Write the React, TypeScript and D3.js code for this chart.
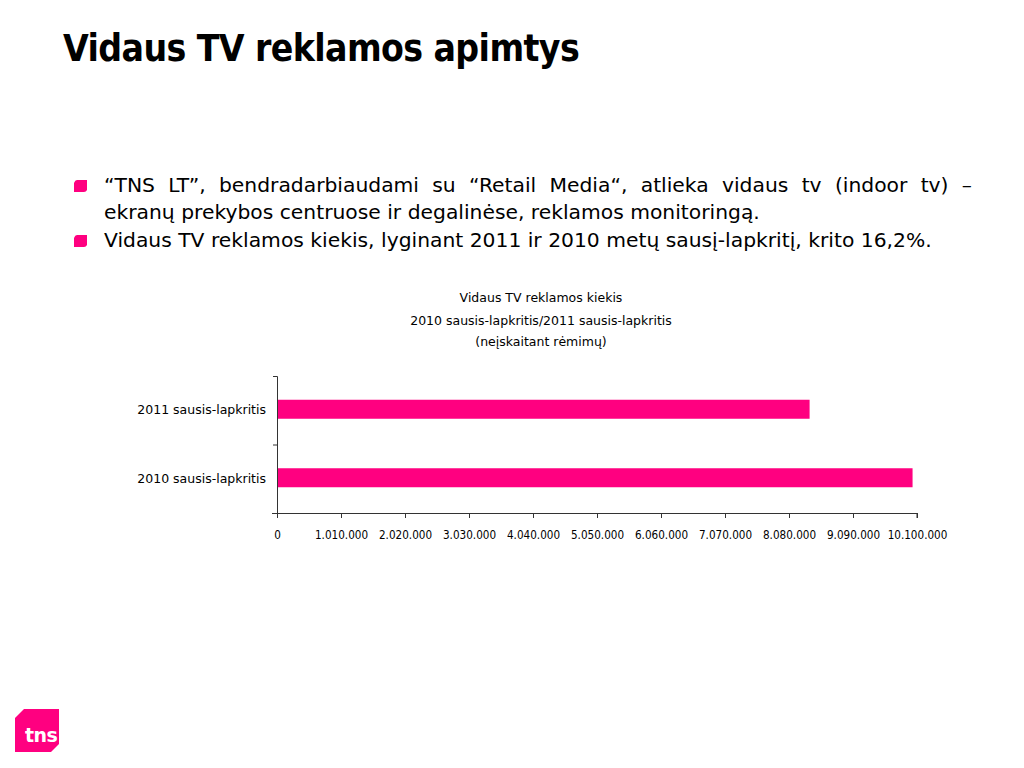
import React, { useEffect, useRef } from "react";
import * as d3 from "d3";

const categories = ["2011 sausis-lapkritis", "2010 sausis-lapkritis"];
const values = [8405000, 10030000];
const tickValues = [0, 1010000, 2020000, 3030000, 4040000, 5050000, 6060000, 7070000, 8080000, 9090000, 10100000];
const chartTitle = ["Vidaus TV reklamos kiekis", "2010 sausis-lapkritis/2011 sausis-lapkritis", "(neįskaitant rėmimų)"];
const pageTitle = "Vidaus TV reklamos apimtys";
const bulletLines = [
  { text: "“TNS LT”, bendradarbiaudami su “Retail Media“, atlieka vidaus tv (indoor tv) –", bullet: true, justify: true },
  { text: "ekranų prekybos centruose ir degalinėse, reklamos monitoringą.", bullet: false, justify: false },
  { text: "Vidaus TV reklamos kiekis, lyginant 2011 ir 2010 metų sausį-lapkritį, krito 16,2%.", bullet: true, justify: false },
];

const PINK = "#ff0080";
const FONT_C = "'DejaVu Sans Condensed', 'DejaVu Sans', sans-serif";
const FONT = "'DejaVu Sans', sans-serif";

export default function App() {
  const ref = useRef<SVGSVGElement>(null);

  useEffect(() => {
    const svg = d3.select(ref.current);
    svg.selectAll("*").remove();

    // Page title
    svg.append("text")
      .attr("x", 63).attr("y", 61)
      .attr("font-family", FONT_C).attr("font-weight", "bold").attr("font-size", 37)
      .attr("letter-spacing", -0.6)
      .attr("fill", "#000").text(pageTitle);

    // Bullets
    const lineY = [192, 219, 247];
    bulletLines.forEach((l, i) => {
      if (l.bullet) {
        svg.append("path")
          .attr("d", `M${77},${lineY[i] - 12} L${87},${lineY[i] - 12} L${87},${lineY[i] - 2} Q${86},${lineY[i]} ${84},${lineY[i]} L${74},${lineY[i]} L${74},${lineY[i] - 9} Q${75},${lineY[i] - 12} ${77},${lineY[i] - 12} Z`)
          .attr("fill", PINK);
      }
      const t = svg.append("text")
        .attr("x", 104).attr("y", lineY[i])
        .attr("font-family", FONT).attr("font-size", 20.3)
        .attr("fill", "#000").text(l.text);
      if (l.justify) {
        const node = t.node() as SVGTextElement;
        const w = node.getComputedTextLength();
        const spaces = (l.text.match(/ /g) || []).length;
        const target = 972 - 104;
        if (spaces > 0) t.attr("word-spacing", (target - w) / spaces);
      }
    });

    // Chart title
    chartTitle.forEach((s, i) => {
      svg.append("text")
        .attr("x", 541).attr("y", [302, 325, 346][i])
        .attr("text-anchor", "middle")
        .attr("font-family", FONT).attr("font-size", 12.5)
        .attr("fill", "#000").text(s);
    });

    // Chart
    const x = d3.scaleLinear().domain([0, 10100000]).range([277, 917]);
    const y = d3.scaleBand().domain(categories).range([376, 513]).paddingInner(0).paddingOuter(0);
    const barH = 19;

    const g = svg.append("g");
    g.selectAll("rect.bar").data(categories).enter().append("rect")
      .attr("class", "bar")
      .attr("x", x(0))
      .attr("y", (d) => (y(d) as number) + y.bandwidth() / 2 - barH / 2 - 1)
      .attr("width", (d, i) => x(values[i]) - x(0))
      .attr("height", barH)
      .attr("fill", PINK);

    const xAxis = d3.axisBottom(x).tickValues(tickValues).tickSize(5).tickSizeOuter(5)
      .tickFormat((d) => (d as number) === 0 ? "0" : d3.format(",")(d as number).replace(/,/g, "."));
    const gx = g.append("g").attr("transform", `translate(0,513)`).call(xAxis);
    gx.select(".domain").attr("stroke", "#333").attr("d", `M${272},0.5H${917}V5`);
    gx.selectAll(".tick line").attr("stroke", "#333");
    gx.selectAll(".tick text").attr("font-family", FONT_C).attr("font-size", 11.6).attr("fill", "#000")
      .attr("y", 18).attr("dy", "0.71em");

    const yAxis = d3.axisLeft(y).tickSize(0).tickPadding(11);
    const gy = g.append("g").attr("transform", `translate(277,0)`).call(yAxis);
    gy.select(".domain").attr("stroke", "#333").attr("d", `M-4,376.5H0.5V513`);
    gy.selectAll(".tick text").attr("font-family", FONT).attr("font-size", 12.5).attr("fill", "#000");
    // category separator ticks
    const bounds = [y(categories[1]) as number];
    g.selectAll("line.sep").data(bounds).enter().append("line")
      .attr("x1", 273).attr("x2", 277).attr("y1", (d) => d + 0.5).attr("y2", (d) => d + 0.5)
      .attr("stroke", "#333");

    // TNS logo
    svg.append("path")
      .attr("d", "M24,709 L59,709 L59,744 L51,752 L15,752 L15,718 Z")
      .attr("fill", PINK);
    svg.append("text")
      .attr("x", 25).attr("y", 742)
      .attr("font-family", FONT).attr("font-weight", "bold").attr("font-size", 19)
      .attr("fill", "#fff").attr("letter-spacing", -0.5).text("tns");
  }, []);

  return (
    <svg ref={ref} width={1024} height={768} style={{ position: "absolute", left: 0, top: 0, background: "#fff" }} />
  );
}
